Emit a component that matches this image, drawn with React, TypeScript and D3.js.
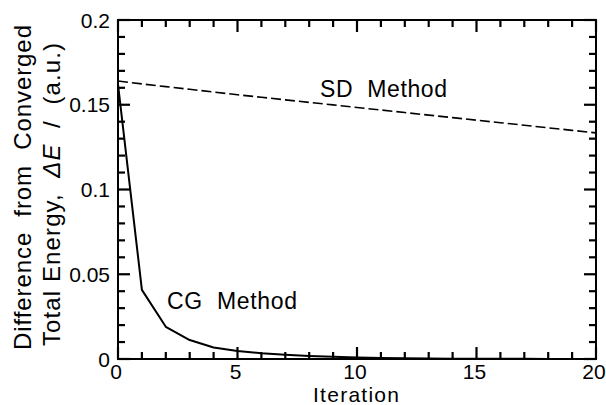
import { scaleLinear, line, range } from 'd3';

const iterations = range(0, 21);
const cgEnergy = [
  0.162, 0.0408, 0.019, 0.0112, 0.0068, 0.0047, 0.0034, 0.0025, 0.0018, 0.0013, 0.0009,
  0.0006, 0.0004, 0.0003, 0.0002, 0.00015, 0.0001, 0.0001, 0.00005, 0.00005, 0.00003,
];
const sdEnergy = [
  0.164, 0.1623, 0.1607, 0.1591, 0.1575, 0.1559, 0.1544, 0.1529, 0.1514, 0.1499, 0.1484,
  0.1469, 0.1454, 0.1439, 0.1424, 0.1409, 0.1394, 0.1379, 0.1364, 0.1349, 0.1334,
];
const xMajor = [0, 5, 10, 15, 20];
const yMajor = [0, 0.05, 0.1, 0.15, 0.2];
const yTickLabels = ['0', '0.05', '0.1', '0.15', '0.2'];

const W = 606;
const H = 405;
const m = { left: 118, right: 10, top: 20, bottom: 46 };
const FONT = "'Liberation Sans', Arial, Helvetica, sans-serif";

const x = scaleLinear().domain([0, 20]).range([m.left, W - m.right]);
const y = scaleLinear().domain([0, 0.2]).range([H - m.bottom, m.top]);

const App = () => {
  const xTicks = range(0, 21);
  const yTicks = range(0, 21).map((i) => i / 100);
  const xLen = (d: number) => (xMajor.includes(d) ? 12 : 7);
  const yLen = (d: number) => (yMajor.some((v) => Math.abs(v - d) < 1e-9) ? 12 : 7);
  const path = line<number>().x((d, i) => x(iterations[i])).y((d) => y(d));

  return (
    <svg
      width={W}
      height={H}
      style={{ position: 'absolute', left: 0, top: 0, background: '#fff' }}
    >
      {/* tick marks, inward on all four sides */}
      <g stroke="#000" strokeWidth={2.2}>
        {xTicks.map((d) => (
          <line key={'b' + d} x1={x(d)} x2={x(d)} y1={y(0)} y2={y(0) - xLen(d)} />
        ))}
        {xTicks.map((d) => (
          <line key={'t' + d} x1={x(d)} x2={x(d)} y1={y(0.2)} y2={y(0.2) + xLen(d)} />
        ))}
        {yTicks.map((d) => (
          <line key={'l' + d} x1={x(0)} x2={x(0) + yLen(d)} y1={y(d)} y2={y(d)} />
        ))}
        {yTicks.map((d) => (
          <line key={'r' + d} x1={x(20)} x2={x(20) - yLen(d)} y1={y(d)} y2={y(d)} />
        ))}
      </g>
      <rect
        x={x(0)}
        y={y(0.2)}
        width={x(20) - x(0)}
        height={y(0) - y(0.2)}
        fill="none"
        stroke="#000"
        strokeWidth={2}
      />

      <g fontFamily={FONT} fontSize={21} textAnchor="middle">
        {xMajor.map((d) => (
          <text key={d} x={x(d) - 2} y={y(0) + 20}>
            {d}
          </text>
        ))}
      </g>
      <g fontFamily={FONT} fontSize={21} textAnchor="end">
        {yMajor.map((d, i) => (
          <text key={d} x={x(0) - 8} y={y(d)} dy="0.36em">
            {yTickLabels[i]}
          </text>
        ))}
      </g>

      <path
        d={path(sdEnergy) ?? ''}
        fill="none"
        stroke="#000"
        strokeWidth={1.6}
        strokeDasharray="10,4"
      />
      <path
        d={path(cgEnergy) ?? ''}
        fill="none"
        stroke="#000"
        strokeWidth={2}
        strokeLinejoin="round"
      />

      <text x={320} y={97} fontFamily={FONT} fontSize={23} textLength={127} lengthAdjust="spacing">
        {'SD\u00a0\u00a0Method'}
      </text>
      <text x={167} y={309} fontFamily={FONT} fontSize={23} textLength={130} lengthAdjust="spacing">
        {'CG\u00a0\u00a0Method'}
      </text>

      <text
        x={356}
        y={402}
        textAnchor="middle"
        fontFamily={FONT}
        fontSize={21}
        textLength={86}
        lengthAdjust="spacing"
      >
        Iteration
      </text>

      <text
        transform="translate(31,350) rotate(-90)"
        fontFamily={FONT}
        fontSize={24}
        textLength={325}
        lengthAdjust="spacing"
      >
        {'Difference\u00a0 from\u00a0 Converged'}
      </text>
      <text
        transform="translate(60,346) rotate(-90)"
        fontFamily={FONT}
        fontSize={24}
        textLength={303}
        lengthAdjust="spacing"
      >
        <tspan>{'Total Energy,\u00a0 '}</tspan>
        <tspan fontStyle="italic">{'\u0394E'}</tspan>
        <tspan>{'\u00a0 /\u00a0 (a.u.)'}</tspan>
      </text>
    </svg>
  );
};

export default App;
